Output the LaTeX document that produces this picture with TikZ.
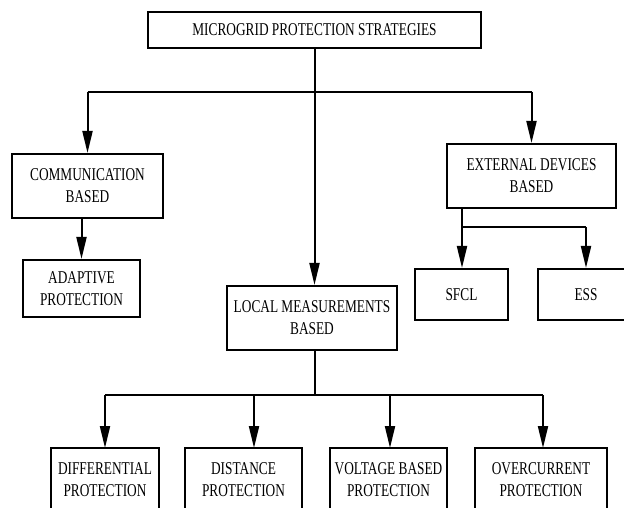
\documentclass[tikz,border=0pt]{standalone}
\usepackage{fontspec}
\setmainfont{Liberation Serif}[FakeStretch=0.74]
\usetikzlibrary{arrows.meta}

\begin{document}
\begin{tikzpicture}[x=1bp,y=-1bp,
    box/.style={draw, line width=2bp, rectangle, inner sep=0pt, align=center,
        font=\fontsize{18bp}{22bp}\selectfont},
    link/.style={line width=2bp},
    arr/.style={line width=2bp, -{Triangle[length=22bp,width=10bp]}}]
    \clip (0,0) rectangle (624,508);
    \fill[white] (0,0) rectangle (624,508);

    % Nodes
    \node[box, minimum width=333bp, minimum height=36bp] (root) at (314.5,30) {MICROGRID PROTECTION STRATEGIES};
    \node[box, minimum width=151bp, minimum height=64bp] (comm) at (87.5,186) {COMMUNICATION\\BASED};
    \node[box, minimum width=117bp, minimum height=57bp] (adapt) at (81.5,288.5) {ADAPTIVE\\PROTECTION};
    \node[box, minimum width=169bp, minimum height=64bp] (ext) at (531.5,176) {EXTERNAL DEVICES\\BASED};
    \node[box, minimum width=93bp, minimum height=51bp] (sfcl) at (461.5,294.5) {SFCL};
    \node[box, minimum width=96bp, minimum height=51bp] (ess) at (586,294.5) {ESS};
    \node[box, minimum width=170bp, minimum height=64bp] (local) at (312,318) {LOCAL MEASUREMENTS\\BASED};
    \node[box, minimum width=108bp, minimum height=64bp] (diff) at (105,480) {DIFFERENTIAL\\PROTECTION};
    \node[box, minimum width=117bp, minimum height=64bp] (dist) at (243.5,480) {DISTANCE\\PROTECTION};
    \node[box, minimum width=117bp, minimum height=64bp] (volt) at (388.5,480) {VOLTAGE BASED\\PROTECTION};
    \node[box, minimum width=132bp, minimum height=64bp] (over) at (541,480) {OVERCURRENT\\PROTECTION};

    % Bus points
    \coordinate (bus1) at (314.5,92);
    \coordinate (bus2) at (462,227);
    \coordinate (bus3) at (315,395);

    % Edges
    \path[draw,link]
        (root.south) -- (bus1)
        (comm.north |- bus1) -- (ext.north |- bus1)
        (ext.south -| bus2) -- (bus2)
        (bus2) -- (ess.north |- bus2)
        (local.south -| bus3) -- (bus3)
        (105,395) -- (543,395);
    \path[arr]
        (comm.north |- bus1) edge (comm.north)
        (ext.north |- bus1) edge (ext.north)
        (bus1) edge (bus1 |- local.north)
        (adapt.north |- comm.south) edge (adapt.north)
        (bus2) edge (bus2 |- sfcl.north)
        (ess.north |- bus2) edge (ess.north)
        (105,395) edge (105,448)
        (254,395) edge (254,448)
        (390,395) edge (390,448)
        (543,395) edge (543,448);
\end{tikzpicture}
\end{document}
